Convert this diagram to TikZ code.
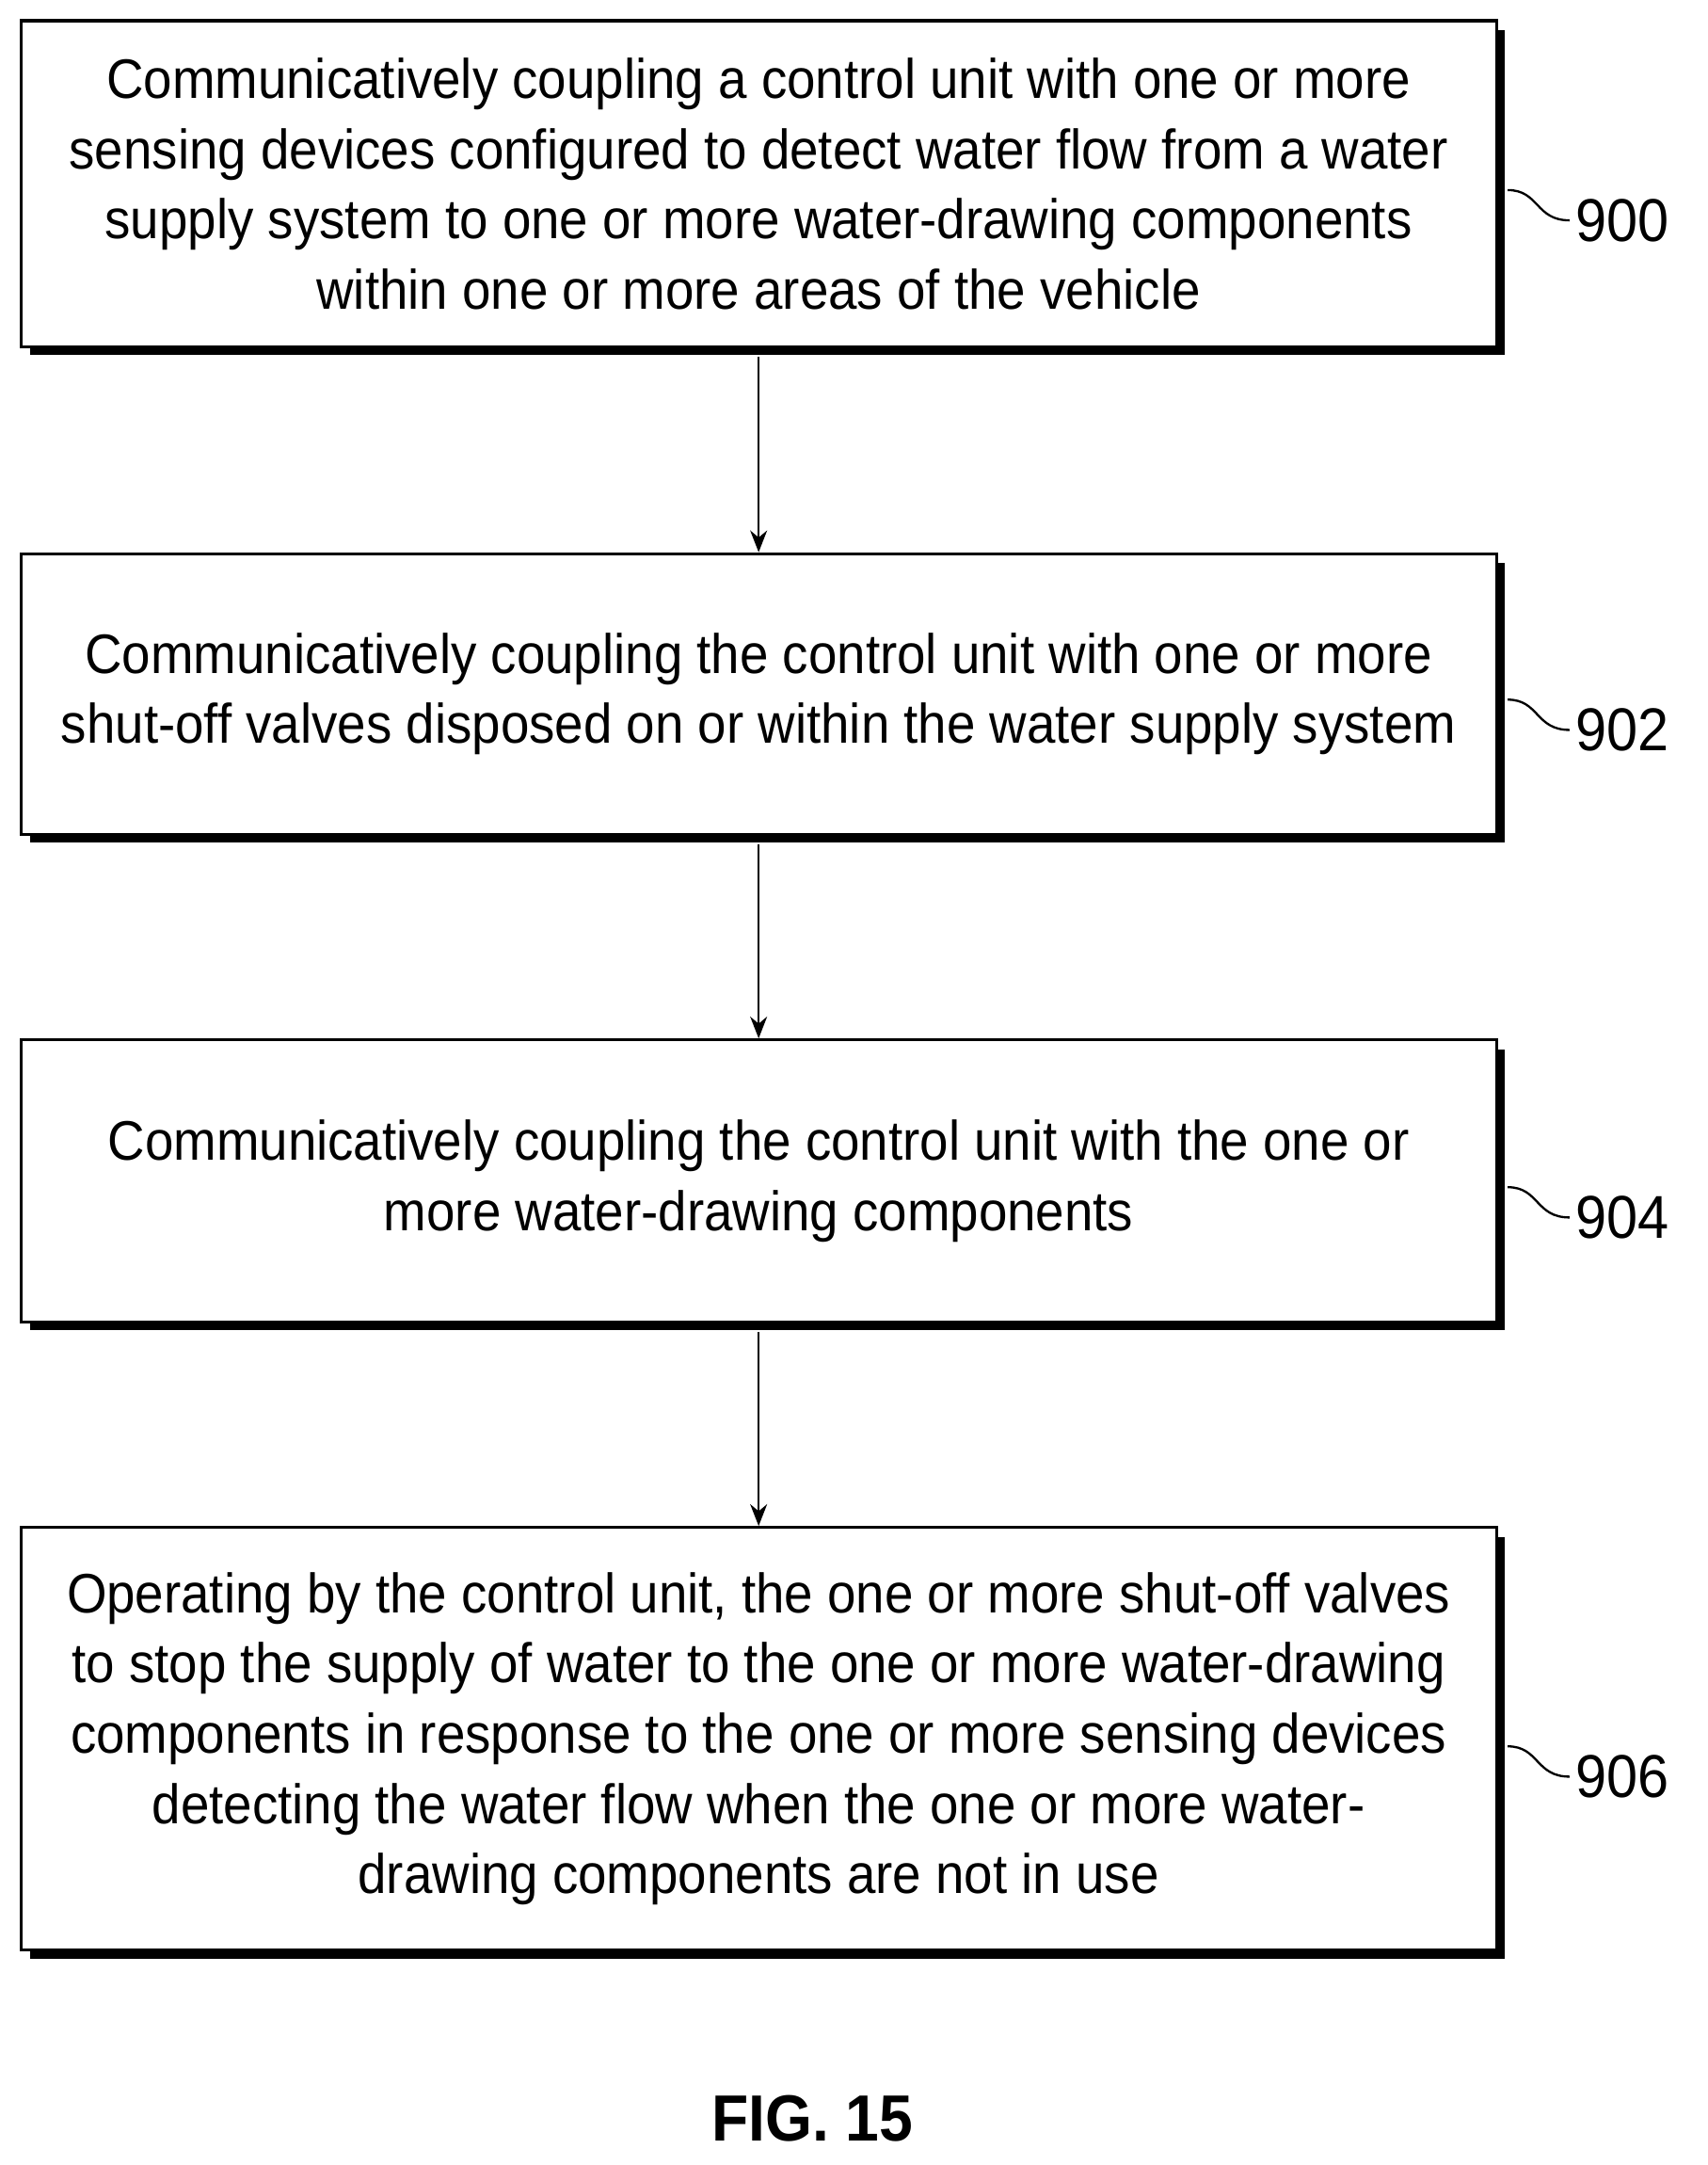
\documentclass[tikz,border=0pt]{standalone}
\usepackage{fontspec}
\setmainfont{Liberation Sans}[FakeStretch=0.925]
\usetikzlibrary{positioning,arrows.meta}
\tikzset{
	stepbox/.style={draw, fill=white, line width=1.2pt, minimum width=21.44cm, align=center,
		font=\fontsize{23}{29}\selectfont, inner sep=0pt},
	shade/.style={fill=black},
	flow/.style={-{Stealth[length=9pt,width=7pt]}, line width=0.9pt},
	refnum/.style={font=\fontsize{25}{29}\selectfont, anchor=west}
}
\begin{document}
\begin{tikzpicture}[x=0.02cm,y=-0.02cm]
	\useasboundingbox (0,0) rectangle (1240,1572);
	
	% shadows
	\fill[shade] (22,22) rectangle (1093,258);
	\fill[shade] (22,409) rectangle (1093,612);
	\fill[shade] (22,762) rectangle (1093,966);
	\fill[shade] (22,1116) rectangle (1093,1422);
	
	% boxes
	\node[stepbox, minimum height=4.74cm] (s900) at (551,133.5) {Communicatively coupling a control unit with one or more\\
		sensing devices configured to detect water flow from a water\\
		supply system to one or more water-drawing components\\
		within one or more areas of the vehicle};
	\node[stepbox, minimum height=4.08cm] (s902) at (551,504) {Communicatively coupling the control unit with one or more\\
		shut-off valves disposed on or within the water supply system};
	\node[stepbox, minimum height=4.1cm] (s904) at (551,857.5) {Communicatively coupling the control unit with the one or\\
		more water-drawing components};
	\node[stepbox, minimum height=6.14cm] (s906) at (551,1262.5) {Operating by the control unit, the one or more shut-off valves\\
		to stop the supply of water to the one or more water-drawing\\
		components in response to the one or more sensing devices\\
		detecting the water flow when the one or more water-\\
		drawing components are not in use};
	
	% arrows
	\draw[flow] ([yshift=-0.12cm]s900.south) -- (s902.north);
	\draw[flow] ([yshift=-0.12cm]s902.south) -- (s904.north);
	\draw[flow] ([yshift=-0.12cm]s904.south) -- (s906.north);
	
	% reference numbers
	\foreach \nm/\yy in {900/160, 902/530, 904/884, 906/1290}{
		\draw[line width=0.9pt] (1095,\yy-22) .. controls (1118,\yy-22) and (1115,\yy) .. (1140,\yy);
		\node[refnum] (r\nm) at (1138,\yy) {\nm};
	}
	
	\node[font=\bfseries\fontsize{27}{32}\selectfont] (fig) at (590,1538) {FIG. 15};
\end{tikzpicture}
\end{document}
